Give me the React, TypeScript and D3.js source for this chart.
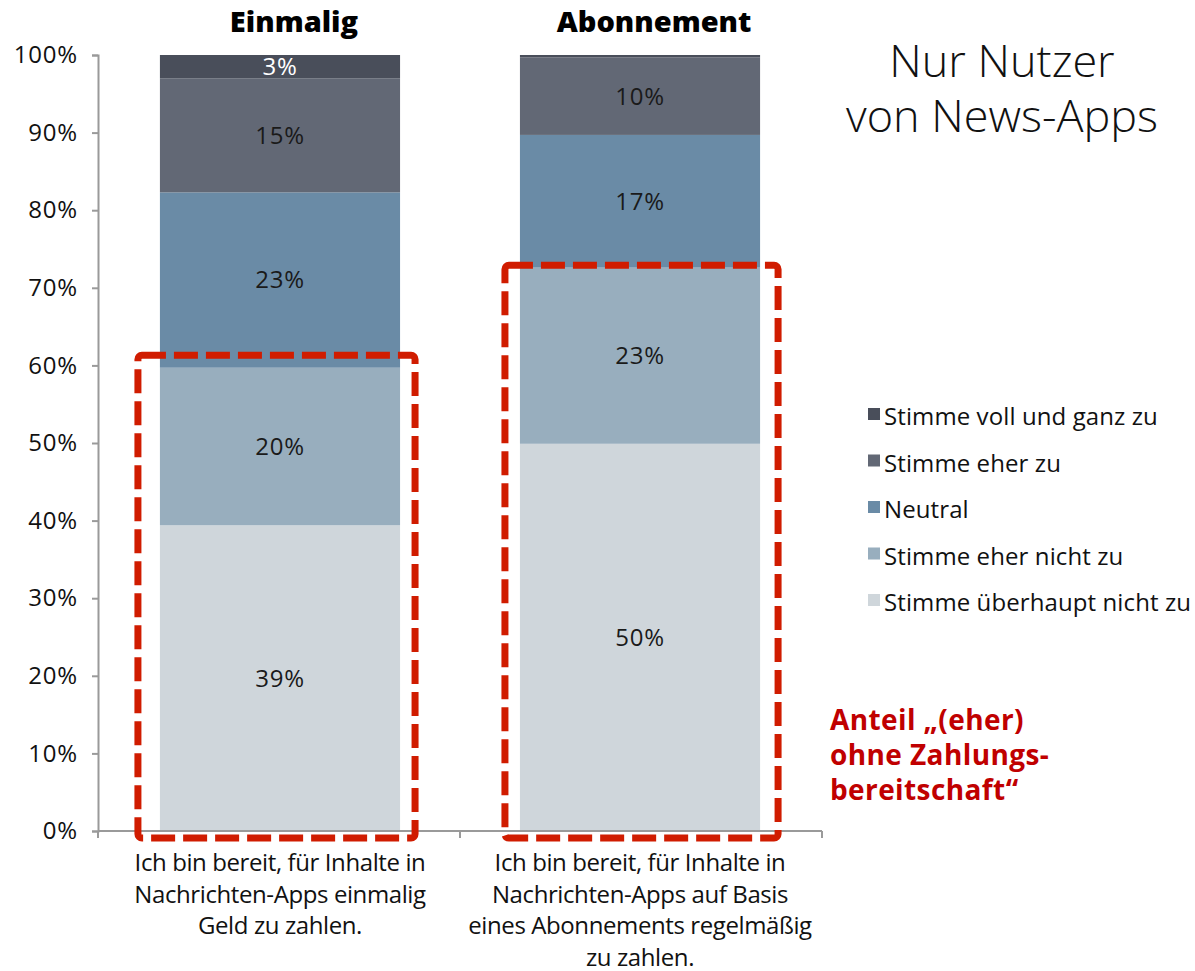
// @ts-nocheck
import { useEffect, useRef } from "react";
import * as d3 from "d3";

const categories = ["Einmalig", "Abonnement"];
const categoryLabels = [
  ["Ich bin bereit, für Inhalte in", "Nachrichten-Apps einmalig", "Geld zu zahlen."],
  ["Ich bin bereit, für Inhalte in", "Nachrichten-Apps auf Basis", "eines Abonnements regelmäßig", "zu zahlen."],
];
// stacked from bottom to top
const seriesNames = [
  "Stimme überhaupt nicht zu",
  "Stimme eher nicht zu",
  "Neutral",
  "Stimme eher zu",
  "Stimme voll und ganz zu",
];
const einmaligValues = [39.4, 20.3, 22.6, 14.7, 3.0];
const abonnementValues = [49.9, 22.7, 17.1, 10.0, 0.3];
const yTicks = [0, 10, 20, 30, 40, 50, 60, 70, 80, 90, 100];
// top of the red "(eher) ohne Zahlungsbereitschaft" boxes, in percent
const boxTops = [61.3, 72.9];

const colors = ["#cfd6db", "#98aebe", "#6a8ba6", "#626875", "#494e5a"];
const labelColors = ["#1a1a1a", "#1a1a1a", "#1a1a1a", "#1a1a1a", "#ffffff"];

const App = () => {
  const ref = useRef();

  useEffect(() => {
    document.body.style.margin = "0";
    const svg = d3.select(ref.current);
    svg.selectAll("*").remove();

    const font = "'Open Sans', 'Noto Sans', sans-serif";
    const left = 98;
    const right = 822;
    const top = 55;
    const bottom = 831;

    const x = d3
      .scaleBand()
      .domain(categories)
      .range([left, right])
      .paddingInner(0.333)
      .paddingOuter(0.172);
    const y = d3.scaleLinear().domain([0, 100]).range([bottom, top]);

    const rows = categories.map((c, i) => {
      const vals = i === 0 ? einmaligValues : abonnementValues;
      const r = { cat: c };
      seriesNames.forEach((s, j) => (r[s] = vals[j]));
      return r;
    });
    const stacked = d3.stack().keys(seriesNames)(rows);

    // y axis
    const yAxis = svg
      .append("g")
      .attr("transform", `translate(${left},0)`)
      .call(d3.axisLeft(y).tickValues(yTicks).tickSize(6).tickPadding(14).tickFormat((d) => d + "%"));
    yAxis.select(".domain").attr("stroke", "#9a9a9a").attr("stroke-width", 2);
    yAxis.selectAll(".tick line").attr("stroke", "#9a9a9a").attr("stroke-width", 2);
    yAxis
      .selectAll(".tick text")
      .attr("fill", "#111")
      .style("font-size", "24px")
      .style("letter-spacing", "0.8px")
      .style("font-family", font);

    // bars
    svg
      .append("g")
      .selectAll("g")
      .data(stacked)
      .join("g")
      .attr("fill", (d, i) => colors[i])
      .selectAll("rect")
      .data((d) => d)
      .join("rect")
      .attr("x", (d) => x(d.data.cat))
      .attr("y", (d) => y(d[1]))
      .attr("width", x.bandwidth())
      .attr("height", (d) => y(d[0]) - y(d[1]));

    // value labels
    stacked.forEach((layer, i) => {
      svg
        .append("g")
        .selectAll("text")
        .data(layer.filter((d) => d[1] - d[0] >= 1))
        .join("text")
        .attr("x", (d) => x(d.data.cat) + x.bandwidth() / 2)
        .attr("y", (d) => y((d[0] + d[1]) / 2))
        .attr("dy", "0.35em")
        .attr("text-anchor", "middle")
        .attr("fill", labelColors[i])
        .style("font-size", "24px")
        .style("letter-spacing", "0.8px")
        .style("font-family", font)
        .text((d) => Math.round(d[1] - d[0]) + "%");
    });

    // x axis
    const xAxisG = svg.append("g");
    xAxisG
      .append("line")
      .attr("x1", left)
      .attr("x2", right)
      .attr("y1", bottom)
      .attr("y2", bottom)
      .attr("stroke", "#9a9a9a")
      .attr("stroke-width", 2);
    const xTickPos = [left, ...categories.slice(1).map((c) => x(c) - (x.step() - x.bandwidth()) / 2), right];
    xAxisG
      .selectAll(".xt")
      .data(xTickPos)
      .join("line")
      .attr("x1", (d) => d)
      .attr("x2", (d) => d)
      .attr("y1", bottom)
      .attr("y2", bottom + 7)
      .attr("stroke", "#9a9a9a")
      .attr("stroke-width", 2);

    categoryLabels.forEach((lines, i) => {
      const t = svg
        .append("text")
        .attr("text-anchor", "middle")
        .attr("fill", "#111")
        .style("font-size", "24px")
        .style("letter-spacing", "-0.4px")
        .style("font-family", font);
      lines.forEach((l, k) => {
        t.append("tspan")
          .attr("x", x(categories[i]) + x.bandwidth() / 2)
          .attr("y", 871 + k * 31.5)
          .text(l);
      });
    });

    // category titles
    svg
      .append("g")
      .selectAll("text")
      .data(categories)
      .join("text")
      .attr("x", (d) => x(d) + x.bandwidth() / 2 + 14)
      .attr("y", 32)
      .attr("text-anchor", "middle")
      .attr("fill", "#000")
      .style("font-size", "29px")
      .style("font-weight", 800)
      .style("font-family", font)
      .text((d) => d);

    // red dashed boxes
    const boxOffsets = [
      [-22, 15],
      [-15, 18],
    ];
    svg
      .append("g")
      .selectAll("rect")
      .data(categories)
      .join("rect")
      .attr("x", (d, i) => x(d) + boxOffsets[i][0])
      .attr("y", (d, i) => y(boxTops[i]))
      .attr("width", (d, i) => x.bandwidth() - boxOffsets[i][0] + boxOffsets[i][1])
      .attr("height", (d, i) => bottom + 7 - y(boxTops[i]))
      .attr("rx", 4)
      .attr("fill", "none")
      .attr("stroke", "#d01c00")
      .attr("stroke-width", 7)
      .attr("stroke-dasharray", "24 8");

    // title
    const title = svg
      .append("text")
      .attr("text-anchor", "middle")
      .attr("fill", "#111")
      .style("font-size", "45px")
      .style("font-weight", 300)
      .style("font-family", font);
    ["Nur Nutzer", "von News-Apps"].forEach((l, k) => {
      title.append("tspan").attr("x", 1002).attr("y", 77 + k * 55).text(l);
    });

    // legend (top to bottom)
    const legendItems = seriesNames.map((s, i) => ({ name: s, color: colors[i] })).reverse();
    const lg = svg
      .append("g")
      .selectAll("g")
      .data(legendItems)
      .join("g")
      .attr("transform", (d, i) => `translate(868, ${417 + i * 46.5})`);
    lg.append("rect").attr("x", 0).attr("y", -9).attr("width", 12).attr("height", 12).attr("fill", (d) => d.color);
    lg.append("text")
      .attr("x", 16)
      .attr("y", 0)
      .attr("dy", "0.35em")
      .attr("fill", "#111")
      .style("font-size", "24px")
      .style("letter-spacing", "0.1px")
      .style("font-family", font)
      .text((d) => d.name);

    // red annotation, one text per line
    svg
      .append("g")
      .selectAll("text")
      .data(["Anteil „(eher)", "ohne Zahlungs-", "bereitschaft“"])
      .join("text")
      .attr("x", 830)
      .attr("y", (d, k) => 730 + k * 35)
      .attr("fill", "#c00000")
      .style("font-size", "28px")
      .style("letter-spacing", "0.4px")
      .style("font-weight", 700)
      .style("font-family", font)
      .text((d) => d);
  }, []);

  return <svg ref={ref} width={1195} height={971} style={{ display: "block", background: "#fff" }} />;
};

export default App;
